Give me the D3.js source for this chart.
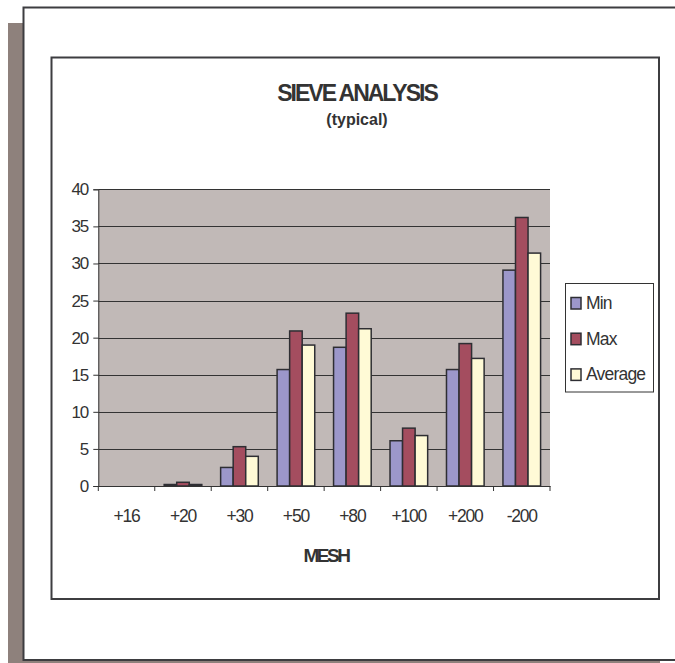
<!DOCTYPE html>
<html>
<head>
<meta charset="utf-8">
<script src="https://cdn.jsdelivr.net/npm/d3@7"></script>
<style>
  html, body { margin: 0; padding: 0; overflow: hidden; background: #ffffff; }
  svg { display: block; }
  svg text { font-family: "Liberation Sans", Arial, sans-serif; fill: #333333; }
</style>
</head>
<body>
<svg id="chart" width="675" height="663"></svg>
<script>
// sieve analysis values
var meshSizes = ["+16", "+20", "+30", "+50", "+80", "+100", "+200", "-200"];
var minValues = [0, 0.2, 2.5, 15.7, 18.7, 6.1, 15.7, 29.1];
var maxValues = [0, 0.5, 5.3, 20.9, 23.3, 7.8, 19.2, 36.2];
var avgValues = [0, 0.2, 4.0, 19.0, 21.2, 6.8, 17.2, 31.4];
var seriesNames = ["Min", "Max", "Average"];
var yTickValues = [0, 5, 10, 15, 20, 25, 30, 35, 40];

var seriesValues = [minValues, maxValues, avgValues];
var seriesColors = ["#9c97ca", "#a44d5f", "#fffad6"];

var svg = d3.select("svg#chart");

/* frames */
// outer sheet with its shadow; the sheet runs off the right edge
svg.append("rect")
  .attr("x", 8).attr("y", 23)
  .attr("width", 652).attr("height", 660)
  .attr("fill", "#8e817c");
svg.append("rect")
  .attr("x", 23.5).attr("y", 7.5)
  .attr("width", 660).attr("height", 652.5)
  .attr("fill", "#ffffff");
svg.append("path")
  .attr("d", "M675,7.5H23.5V660H675")
  .attr("fill", "none")
  .attr("stroke", "#3d3d40")
  .attr("stroke-width", 2);
// chart box
svg.append("rect")
  .attr("x", 51.5).attr("y", 57.5)
  .attr("width", 607.5).attr("height", 541.5)
  .attr("fill", "#ffffff")
  .attr("stroke", "#3d3d40")
  .attr("stroke-width", 2);

var plot = { left: 98.3, right: 550, top: 189.3, bottom: 486 };

/* scales */
var x = d3.scaleBand()
  .domain(meshSizes)
  .range([plot.left, plot.right])
  .paddingInner(0)
  .paddingOuter(0);

var xSeries = d3.scaleBand()
  .domain(seriesNames)
  .range([0, x.bandwidth()])
  .paddingInner(0)
  .paddingOuter(0.75);

var y = d3.scaleLinear()
  .domain([0, 40])
  .range([plot.bottom, plot.top]);

// plot area background
svg.append("rect")
  .attr("x", plot.left).attr("y", plot.top)
  .attr("width", plot.right - plot.left)
  .attr("height", plot.bottom - plot.top)
  .attr("fill", "#c1b9b7");

// gridlines
svg.append("g")
  .attr("class", "grid")
  .selectAll("line")
  .data(yTickValues.filter(function(d) { return d > 0; }))
  .enter().append("line")
  .attr("x1", plot.left).attr("x2", plot.right)
  .attr("y1", function(d) { return Math.round(y(d)) + 0.5; })
  .attr("y2", function(d) { return Math.round(y(d)) + 0.5; })
  .attr("stroke", "#333333")
  .attr("stroke-width", 1);

/* bars */
var groups = svg.append("g")
  .selectAll("g")
  .data(meshSizes)
  .enter().append("g")
  .attr("transform", function(d) { return "translate(" + x(d) + ",0)"; });

groups.selectAll("rect")
  .data(function(d, i) {
    return seriesNames.map(function(s, j) {
      return { series: s, value: seriesValues[j][i], color: seriesColors[j] };
    }).filter(function(b) { return b.value > 0; });
  })
  .enter().append("rect")
  .attr("x", function(d) { return xSeries(d.series); })
  .attr("y", function(d) { return y(d.value); })
  .attr("width", xSeries.bandwidth())
  .attr("height", function(d) { return y(0) - y(d.value); })
  .attr("fill", function(d) { return d.color; })
  .attr("stroke", "#2e2e33")
  .attr("stroke-width", 1.5);

/* axes */
var yAxis = d3.axisLeft(y)
  .tickValues(yTickValues)
  .tickSize(5)
  .tickPadding(5);

var yAxisG = svg.append("g")
  .attr("transform", "translate(" + plot.left + ",0)")
  .call(yAxis);
yAxisG.select(".domain").attr("stroke", "#333333");
yAxisG.selectAll(".tick line").attr("stroke", "#333333");
yAxisG.selectAll(".tick text")
  .attr("font-size", "17px")
  .attr("font-family", "Liberation Sans, Arial, sans-serif")
  .attr("letter-spacing", "-1px")
  .attr("fill", "#333333");

var xAxis = d3.axisBottom(x).tickSize(0);
var xAxisG = svg.append("g")
  .attr("transform", "translate(0," + plot.bottom + ")")
  .call(xAxis);
xAxisG.select(".domain").attr("stroke", "#333333");
xAxisG.selectAll(".tick text")
  .attr("y", 36)
  .attr("dy", null)
  .attr("font-size", "17.5px")
  .attr("font-family", "Liberation Sans, Arial, sans-serif")
  .attr("letter-spacing", "-1.2px")
  .attr("fill", "#333333");

// tick marks sit between categories
var boundaries = meshSizes.map(function(m) { return x(m); })
  .concat([x(meshSizes[meshSizes.length - 1]) + x.bandwidth()]);
xAxisG.selectAll("line.sep")
  .data(boundaries)
  .enter().append("line")
  .attr("class", "sep")
  .attr("x1", function(d) { return d; })
  .attr("x2", function(d) { return d; })
  .attr("y1", 0).attr("y2", 5)
  .attr("stroke", "#333333");

/* titles */
svg.append("text")
  .attr("x", 357).attr("y", 100.5)
  .attr("text-anchor", "middle")
  .attr("font-size", "23px")
  .attr("font-weight", "bold")
  .attr("letter-spacing", "-2px")
  .text("SIEVE ANALYSIS");

svg.append("text")
  .attr("x", 357).attr("y", 125)
  .attr("text-anchor", "middle")
  .attr("font-size", "16px")
  .attr("font-weight", "bold")
  .text("(typical)");

svg.append("text")
  .attr("x", 326).attr("y", 562)
  .attr("text-anchor", "middle")
  .attr("font-size", "19px")
  .attr("font-weight", "bold")
  .attr("letter-spacing", "-2.5px")
  .text("MESH");

/* legend */
svg.append("rect")
  .attr("x", 565.5).attr("y", 283.5)
  .attr("width", 88).attr("height", 108.5)
  .attr("fill", "#ffffff")
  .attr("stroke", "#333333")
  .attr("stroke-width", 1);

var legend = svg.append("g")
  .selectAll("g")
  .data(seriesNames)
  .enter().append("g")
  .attr("transform", function(d, i) { return "translate(571," + (297.5 + i * 35.7) + ")"; });

legend.append("rect")
  .attr("width", 10).attr("height", 11.5)
  .attr("fill", function(d, i) { return seriesColors[i]; })
  .attr("stroke", "#2e2e33")
  .attr("stroke-width", 1.5);

legend.append("text")
  .attr("x", 15).attr("y", 11.5)
  .attr("font-size", "17.5px")
  .attr("letter-spacing", "-0.8px")
  .text(function(d) { return d; });
</script>
</body>
</html>
